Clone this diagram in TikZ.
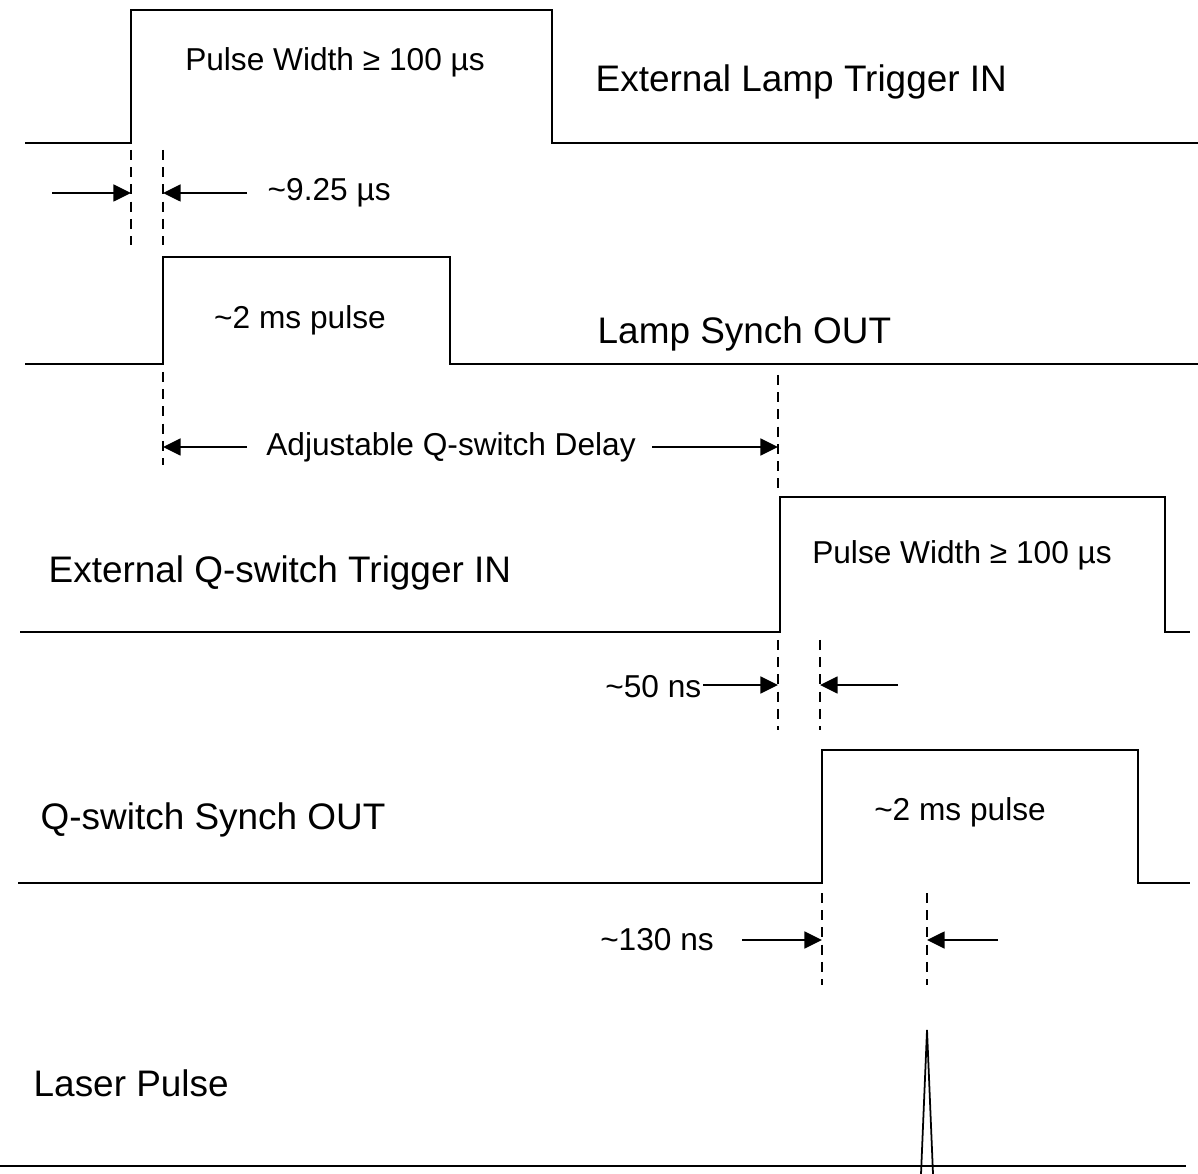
\documentclass[tikz,border=0pt]{standalone}
\usepackage{fontspec}
\setmainfont{Liberation Sans}
\usetikzlibrary{arrows.meta, positioning}

\tikzset{
    wave/.style={line width=0.75pt, line join=miter},
    guide/.style={line width=0.7pt, dash pattern=on 2.8pt off 2.1pt},
    dimarrow/.style={line width=0.5pt, -{Triangle[length=5pt, width=4.8pt]}},
    siglabel/.style={font=\fontsize{10.5}{12}\selectfont, anchor=west, inner sep=0pt},
    pulselabel/.style={font=\fontsize{9}{11}\selectfont, inner sep=0pt}
}

\begin{document}
\begin{tikzpicture}[x=0.01cm, y=-0.01cm]
    \useasboundingbox (0,0) rectangle (1198,1174);

    % External lamp trigger
    \draw[wave] (25,143) -- (131,143) -- (131,10) -- (552,10) -- (552,143) -- (1198,143);
    \node[pulselabel] (lamp_width) at (335,62) {Pulse Width ≥ 100 µs};
    \node[siglabel] (lamp_trig) at (595,82) {External Lamp Trigger IN};

    % ~9.25 us
    \draw[guide] (131,150) -- (131,245);
    \draw[guide] (163,150) -- (163,245);
    \coordinate (lamp_in_start) at (52,193);
    \coordinate (lamp_in_edge) at (131,193);
    \coordinate (lamp_out_edge) at (163,193);
    \node[pulselabel, anchor=west] (lamp_delay) at (267,193) {\textasciitilde 9.25 µs};
    \draw[dimarrow] (lamp_in_start) -- (lamp_in_edge);
    \draw[dimarrow] (247,193) -- (lamp_out_edge);

    % Lamp synch out
    \draw[wave] (25,364) -- (163,364) -- (163,257) -- (450,257) -- (450,364) -- (1198,364);
    \node[pulselabel] (lamp_pulse) at (300,320) {\textasciitilde 2 ms pulse};
    \node[siglabel] (lamp_sync) at (597,334) {Lamp Synch OUT};

    % Adjustable delay
    \draw[guide] (163,372) -- (163,465);
    \draw[guide] (778,375) -- (778,490);
    \node[pulselabel] (qs_delay) at (451,447) {Adjustable Q-switch Delay};
    \coordinate (delay_left) at (163,447);
    \coordinate (delay_right) at (778,447);
    \draw[dimarrow] (247,447) -- (delay_left);
    \draw[dimarrow] (652,447) -- (delay_right);

    % External Q-switch trigger
    \draw[wave] (20,632) -- (780,632) -- (780,497) -- (1165,497) -- (1165,632) -- (1190,632);
    \node[siglabel] (qs_trig) at (48,573) {External Q-switch Trigger IN};
    \node[pulselabel] (qs_width) at (962,555) {Pulse Width ≥ 100 µs};

    % ~50 ns
    \draw[guide] (778,640) -- (778,730);
    \draw[guide] (820,640) -- (820,730);
    \node[pulselabel, anchor=east] (ns_fifty) at (702,687) {\textasciitilde 50 ns};
    \coordinate (fifty_start) at (703,685);
    \coordinate (qs_in_edge) at (778,685);
    \coordinate (qs_out_edge) at (820,685);
    \draw[dimarrow] (fifty_start) -- (qs_in_edge);
    \draw[dimarrow] (898,685) -- (qs_out_edge);

    % Q-switch synch out
    \draw[wave] (18,883) -- (822,883) -- (822,750) -- (1138,750) -- (1138,883) -- (1190,883);
    \node[siglabel] (qs_sync) at (40,820) {Q-switch Synch OUT};
    \node[pulselabel] (qs_pulse) at (960,812) {\textasciitilde 2 ms pulse};

    % ~130 ns
    \draw[guide] (822,893) -- (822,985);
    \draw[guide] (927,893) -- (927,985);
    \node[pulselabel] (ns_onethirty) at (657,940) {\textasciitilde 130 ns};
    \coordinate (sync_edge) at (822,940);
    \coordinate (laser_edge) at (927,940);
    \draw[dimarrow] (742,940) -- (sync_edge);
    \draw[dimarrow] (998,940) -- (laser_edge);

    % Laser pulse
    \draw[wave] (0,1166) -- (1186,1166);
    \draw[line width=0.5pt] (921,1174) -- (927,1030) -- (933,1174);
    \node[siglabel] (laser) at (33,1083) {Laser Pulse};
\end{tikzpicture}
\end{document}
